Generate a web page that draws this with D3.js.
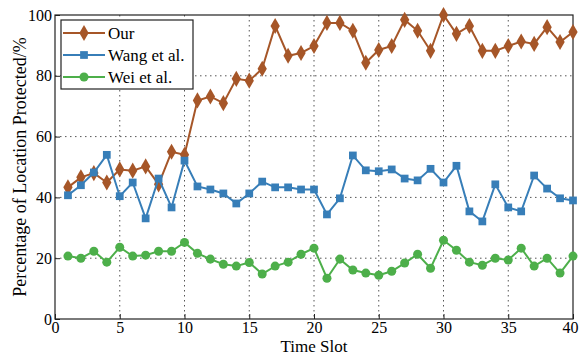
<!DOCTYPE html>
<html>
<head>
<meta charset="utf-8">
<script src="https://cdn.jsdelivr.net/npm/d3@7"></script>
<style>
  body { margin: 0; background: #fff; }
  svg { font-family: "Liberation Serif", "DejaVu Serif", serif; }
</style>
</head>
<body>
<div id="chart"></div>
<script>
const slots = d3.range(1, 41)

const ourValues = [43.3, 46.6, 48, 44.9, 49.2, 48.8, 50.2, 44.3, 55, 54,
    71.9, 73.2, 71, 79, 78.4, 82.3, 96.4, 86.6, 87.5, 89.8,
    97.4, 97.4, 94.8, 84.3, 88.5, 89.8, 98.4, 94.8, 88.2, 100,
    93.8, 96.4, 88.2, 88.2, 89.8, 91.3, 90.5, 96, 91.1, 94.4]

const wangValues = [40.7, 44, 48.2, 54, 40.4, 44.9, 33.1, 46.2, 36.7, 52.1,
    43.6, 42.6, 41.3, 38, 41.3, 45.2, 43.3, 43.3, 42.6, 42.6,
    34.4, 39.7, 53.8, 48.9, 48.6, 49.2, 46.2, 45.6, 49.4, 44.9,
    50.4, 35.4, 32.1, 44.3, 36.7, 35.4, 47.2, 42.9, 39.7, 39]

const weiValues = [20.7, 20, 22.3, 18.7, 23.6, 20.7, 21, 22.3, 22.3, 25.2,
    21.6, 19.7, 18, 17.4, 18.6, 14.8, 17.4, 18.7, 21.3, 23.3,
    13.4, 19.7, 16.1, 15.1, 14.4, 15.7, 18.4, 21.3, 16.7, 25.9,
    22.6, 18.7, 17.7, 20, 19.4, 23.3, 17.4, 20, 15.1, 20.7]

const seriesNames = ["Our", "Wang et al.", "Wei et al."]
const xTicks = [0, 5, 10, 15, 20, 25, 30, 35, 40]
const yTicks = [0, 20, 40, 60, 80, 100]

const series = [
    { name: seriesNames[0], values: ourValues, color: "#a65628", symbol: d3.symbolDiamond, size: 75 },
    { name: seriesNames[1], values: wangValues, color: "#377eb8", symbol: d3.symbolSquare, size: 60 },
    { name: seriesNames[2], values: weiValues, color: "#4daf4a", symbol: d3.symbolCircle, size: 64 }
]

const W = 579, H = 356
const margin = { top: 15, right: 6, bottom: 37, left: 55 }
const width = W - margin.left - margin.right
const height = H - margin.top - margin.bottom

const svg = d3.select("#chart").append("svg")
    .attr("width", W)
    .attr("height", H)

const g = svg.append("g")
    .attr("transform", "translate(" + margin.left + "," + margin.top + ")")

const x = d3.scaleLinear().domain([0, 40]).range([0, width])
const y = d3.scaleLinear().domain([0, 100]).range([height, 0])

// dotted grid
g.append("g").selectAll("line")
    .data(xTicks.slice(1, -1))
    .enter().append("line")
    .attr("x1", d => x(d)).attr("x2", d => x(d))
    .attr("y1", 0).attr("y2", height)
    .attr("stroke", "#555").attr("stroke-width", 1)
    .attr("stroke-dasharray", "1.5,3.5")

g.append("g").selectAll("line")
    .data(yTicks.slice(1, -1))
    .enter().append("line")
    .attr("x1", 0).attr("x2", width)
    .attr("y1", d => y(d)).attr("y2", d => y(d))
    .attr("stroke", "#555").attr("stroke-width", 1)
    .attr("stroke-dasharray", "1.5,3.5")

// axes, ticks pointing inward
const xAxis = g.append("g")
    .attr("transform", "translate(0," + height + ")")
    .call(d3.axisBottom(x).tickValues(xTicks).tickSizeInner(-5).tickSizeOuter(0).tickPadding(3))
const yAxis = g.append("g")
    .call(d3.axisLeft(y).tickValues(yTicks).tickSizeInner(-5).tickSizeOuter(0).tickPadding(3))

for (const ax of [xAxis, yAxis]) {
    ax.select(".domain").remove()
    ax.selectAll(".tick line").attr("stroke", "#222")
    ax.selectAll("text")
        .attr("font-family", "Liberation Serif, serif")
        .attr("font-size", 16)
        .attr("fill", "#000")
}
// last label sits at the edge, keep it inside the window
xAxis.selectAll(".tick text").filter(d => d === 40).attr("text-anchor", "end").attr("dx", 5)

// frame
g.append("rect")
    .attr("width", width).attr("height", height)
    .attr("fill", "none")
    .attr("stroke", "#222").attr("stroke-width", 1.2)

// lines and markers
const line = d3.line()
    .x((d, i) => x(slots[i]))
    .y(d => y(d))

series.forEach(s => {
    g.append("path")
        .datum(s.values)
        .attr("d", line)
        .attr("fill", "none")
        .attr("stroke", s.color)
        .attr("stroke-width", 2)

    g.append("g").selectAll("path")
        .data(s.values)
        .enter().append("path")
        .attr("d", d3.symbol().type(s.symbol).size(s.size))
        .attr("transform", (d, i) => "translate(" + x(slots[i]) + "," + y(d) + ")")
        .attr("fill", s.color)
})

// legend
const legend = g.append("g").attr("transform", "translate(6,5)")
legend.append("rect")
    .attr("width", 132).attr("height", 69)
    .attr("fill", "#fff")
    .attr("stroke", "#222").attr("stroke-width", 1.2)

series.forEach((s, i) => {
    const ly = 13 + i * 22
    legend.append("line")
        .attr("x1", 2).attr("x2", 44)
        .attr("y1", ly).attr("y2", ly)
        .attr("stroke", s.color).attr("stroke-width", 2)
    legend.append("path")
        .attr("d", d3.symbol().type(s.symbol).size(s.size))
        .attr("transform", "translate(23," + ly + ")")
        .attr("fill", s.color)
    legend.append("text")
        .attr("x", 47).attr("y", ly + 6)
        .attr("font-size", 17)
        .text(s.name)
})

// axis titles
svg.append("text")
    .attr("x", margin.left + width / 2)
    .attr("y", H - 4)
    .attr("text-anchor", "middle")
    .attr("font-size", 17)
    .text("Time Slot")

svg.append("text")
    .attr("transform", "translate(26," + (margin.top + height / 2) + ") rotate(-90)")
    .attr("text-anchor", "middle")
    .attr("font-size", 18)
    .text("Percentage of Location Protected/%")
</script>
</body>
</html>
